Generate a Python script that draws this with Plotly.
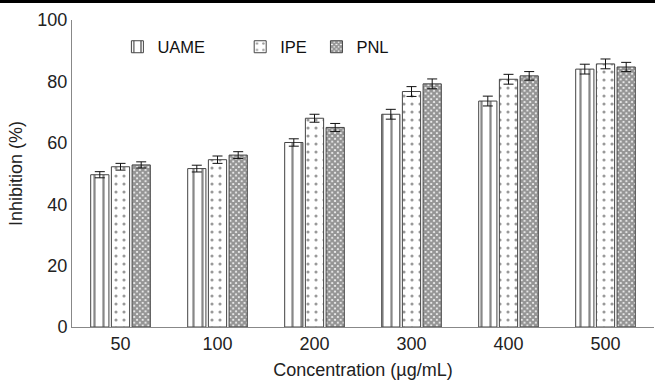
import plotly.graph_objects as go

categories = ["50", "100", "200", "300", "400", "500"]
uame = [49.6, 51.6, 60.1, 69.3, 73.6, 84.0]
ipe = [52.2, 54.5, 68.0, 76.7, 80.7, 85.7]
pnl = [52.8, 56.0, 65.0, 79.2, 81.8, 84.7]
uame_err = [1.0, 1.1, 1.2, 1.6, 1.6, 1.6]
ipe_err = [1.1, 1.2, 1.3, 1.6, 1.6, 1.6]
pnl_err = [1.0, 1.1, 1.3, 1.6, 1.4, 1.5]

font = "Liberation Sans, Arial, sans-serif"
edge = "#444444"

def bar(name, y, err, shape, size, solidity, fg, legend):
    return go.Bar(
        name=name, x=categories, y=y, legend=legend,
        marker=dict(color="white", line=dict(color=edge, width=1),
                    pattern=dict(shape=shape, size=size, solidity=solidity,
                                 fgcolor=fg, bgcolor="white", fillmode="overlay")),
        error_y=dict(type="data", array=err, visible=True, color="#111111",
                     thickness=1, width=5),
    )

fig = go.Figure([
    bar("UAME", uame, uame_err, "|", 9, 0.25, "#111111", "legend"),
    bar("IPE", ipe, ipe_err, ".", 8, 0.12, "#333333", "legend2"),
    bar("PNL", pnl, pnl_err, "x", 4, 0.8, "#2a2a2a", "legend3"),
])

leg = dict(orientation="h", y=0.912, xanchor="left", yanchor="middle",
           font=dict(size=16.5, color="#111111"), bgcolor="rgba(0,0,0,0)",
           itemwidth=30)

fig.update_layout(
    width=655, height=382,
    margin=dict(l=72, r=1, t=20, b=55),
    paper_bgcolor="white", plot_bgcolor="white",
    barmode="group", bargap=0.36, bargroupgap=0.12,
    font=dict(family=font, size=18, color="#222222"),
    showlegend=True,
    legend=dict(leg, x=0.078),
    legend2=dict(leg, x=0.289),
    legend3=dict(leg, x=0.420),
    xaxis=dict(showline=True, linecolor="#888888", linewidth=1, ticks="",
               automargin=False,
               title=dict(text="Concentration (µg/mL)", standoff=10,
                          font=dict(size=18)),
               tickfont=dict(size=18)),
    yaxis=dict(range=[0, 100], dtick=20, showline=True, linecolor="#888888",
               linewidth=1, ticks="", showgrid=False, zeroline=False,
               automargin=False,
               title=dict(text="Inhibition (%)", standoff=10, font=dict(size=18)),
               tickfont=dict(size=18)),
    shapes=[dict(type="rect", xref="paper", yref="paper",
                 x0=-0.2, x1=1.1, y0=1 + 17 / 307, y1=1.2,
                 fillcolor="black", line=dict(width=0))],
)

fig.write_html("out.html", config={"displayModeBar": False},
               post_script="document.body.style.margin='0';document.body.style.overflow='hidden';")
